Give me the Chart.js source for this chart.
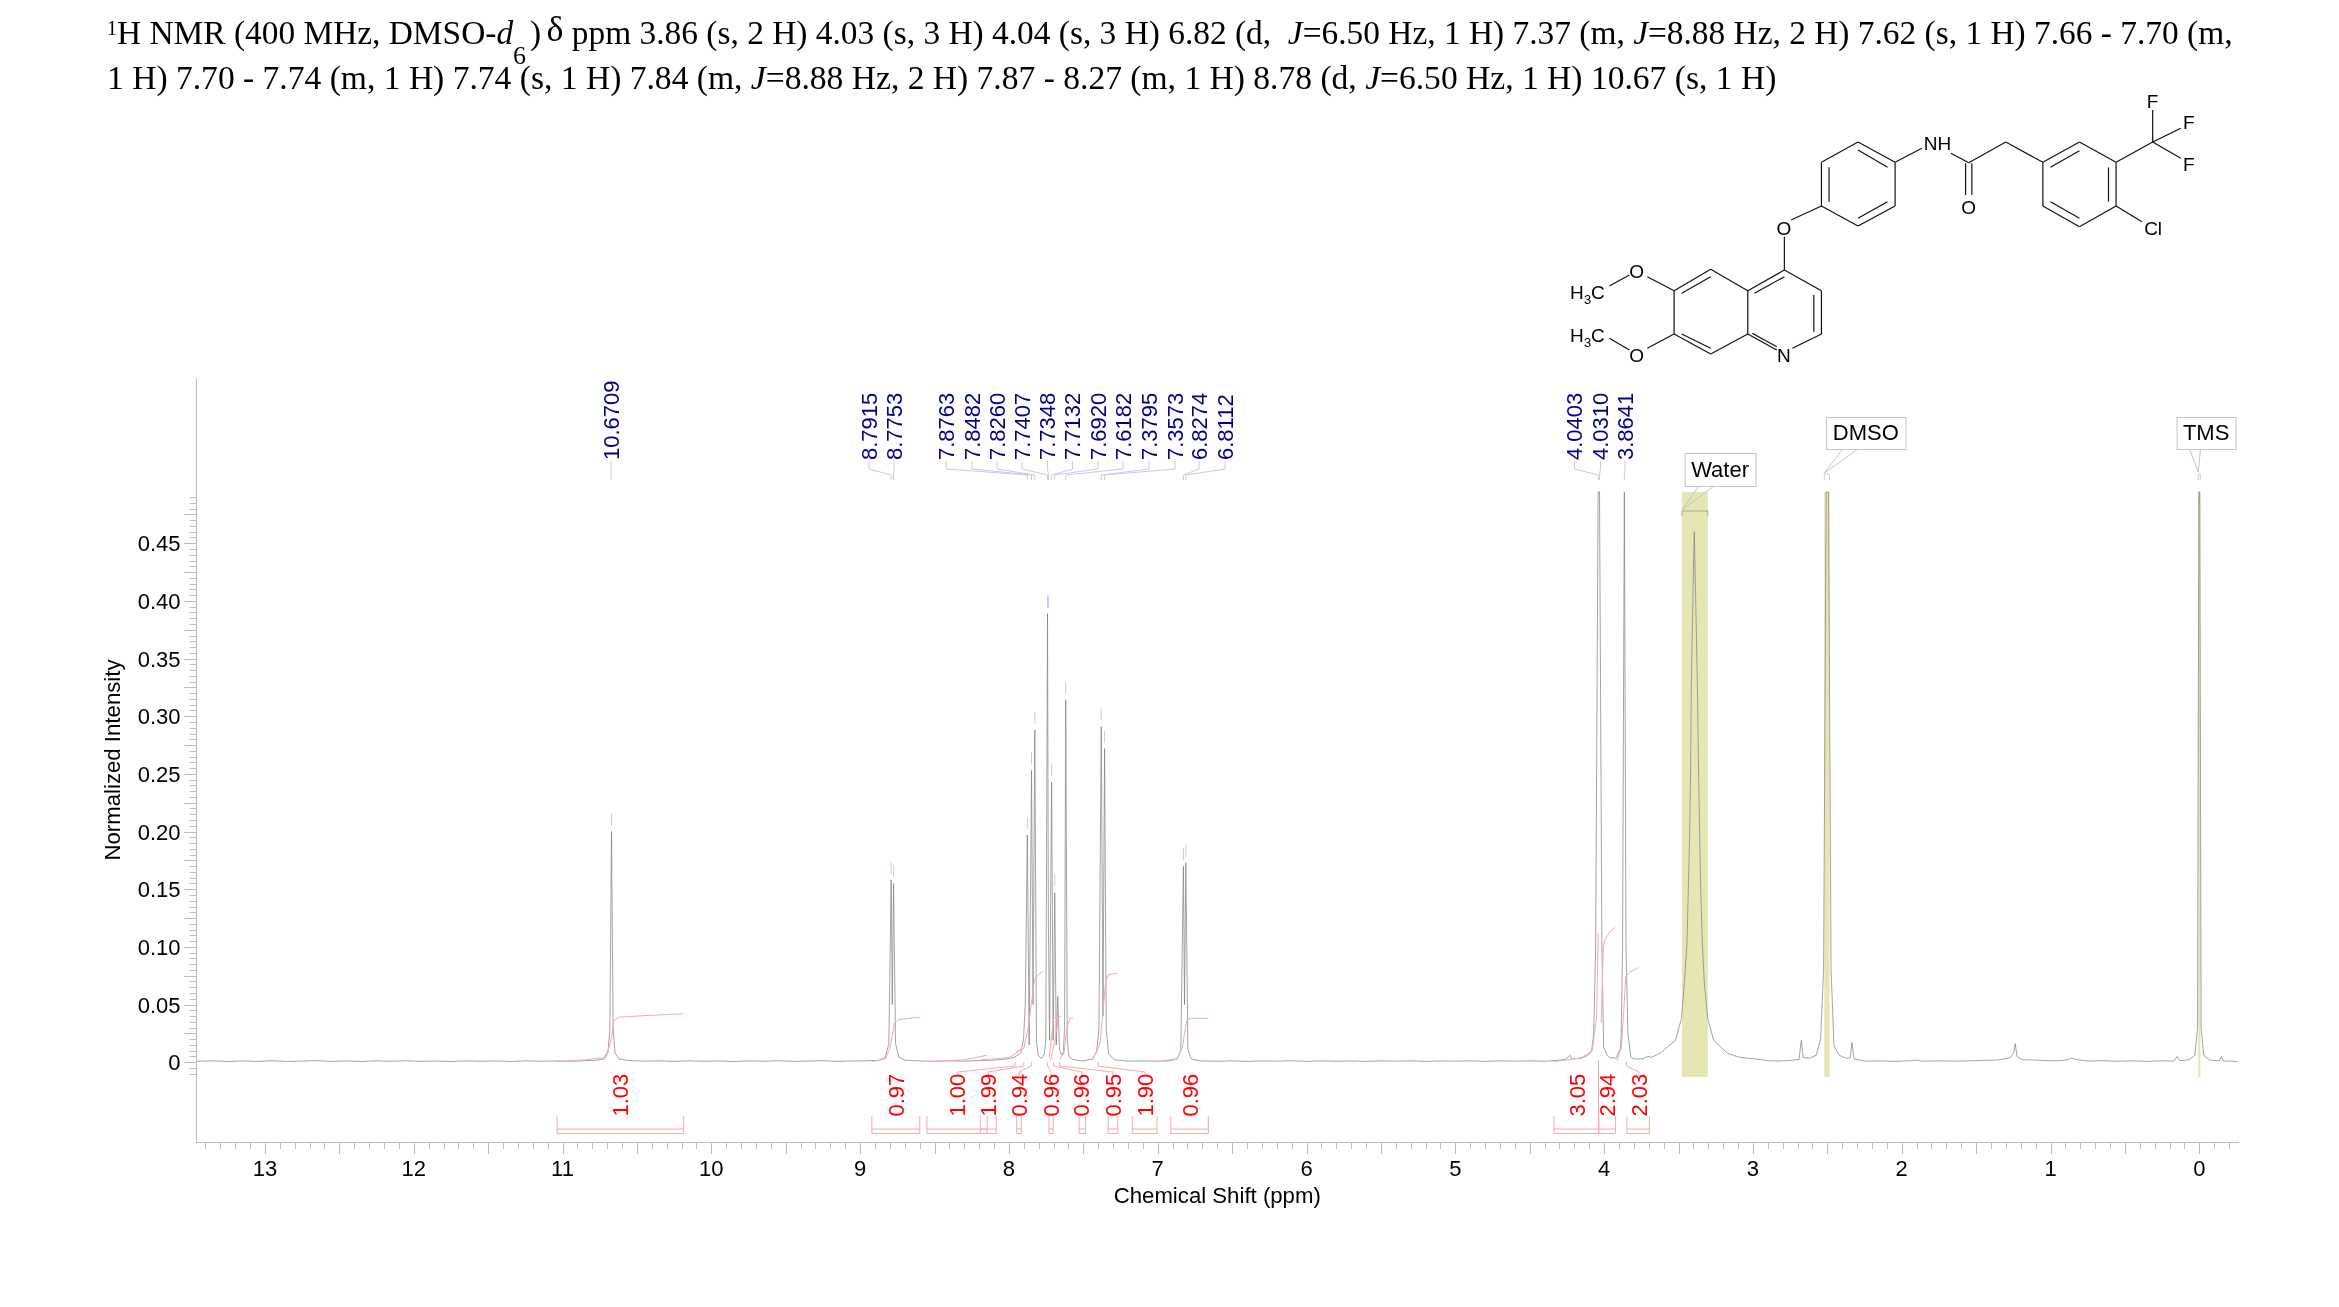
<!DOCTYPE html>
<html>
<head>
<meta charset="utf-8">
<script src="https://cdn.jsdelivr.net/npm/chart.js@4"></script>
<style>
html, body { margin: 0; padding: 0; background: #fff; }
#wrap { position: relative; width: 2339px; height: 1307px; overflow: hidden; }
#nmr { position: absolute; left: 0; top: 0; }
#structure { position: absolute; left: 0; top: 0; }
.line { position: absolute; left: 107px; white-space: pre; font: 33.4px "Liberation Serif", serif; color: #000; line-height: 45px; }
.line sup { font-size: 20px; line-height: 0; position: relative; top: -1px; vertical-align: 8px; }
.six { font-size: 26px; position: relative; top: 20px; line-height: 0; margin-right: 4px; }
.delta { font-size: 36px; line-height: 0; position: relative; top: -3px; margin-left: -3px; }
</style>
</head>
<body>
<div id="wrap">
<canvas id="nmr" width="2339" height="1307"></canvas>
<svg id="structure" width="2339" height="400" xmlns="http://www.w3.org/2000/svg"></svg>
<div class="line" style="top:10px"><sup>1</sup>H NMR (400 MHz, DMSO-<i>d</i><span class="six">6</span>) <span class="delta">δ</span> ppm 3.86 (s, 2 H) 4.03 (s, 3 H) 4.04 (s, 3 H) 6.82 (d,  <i>J</i>=6.50 Hz, 1 H) 7.37 (m, <i>J</i>=8.88 Hz, 2 H) 7.62 (s, 1 H) 7.66 - 7.70 (m,</div>
<div class="line" style="top:55px;font-size:33.55px">1 H) 7.70 - 7.74 (m, 1 H) 7.74 (s, 1 H) 7.84 (m, <i>J</i>=8.88 Hz, 2 H) 7.87 - 8.27 (m, 1 H) 8.78 (d, <i>J</i>=6.50 Hz, 1 H) 10.67 (s, 1 H)</div>
</div>
<script>
// spectrum, [ppm, intensity], left to right
const spectrum = [
  [13.46,.0008],[13.35,.0012],[13.25,.0006],[13.15,.0011],[13.05,.0007],[12.95,.0013],[12.85,.0006],[12.75,.001],[12.65,.0014],[12.55,.0007],
  [12.45,.0011],[12.35,.0006],[12.25,.0012],[12.15,.0008],[12.05,.0013],[11.95,.0007],[11.85,.001],[11.75,.0006],[11.65,.0012],[11.55,.0008],
  [11.45,.0011],[11.35,.0006],[11.25,.0012],[11.15,.0008],[11.05,.0011],[10.95,.0008],[10.85,.0013],[10.78,.0016],[10.72,.0028],[10.695,.008],
  [10.682,.028],[10.6709,.2],[10.66,.028],[10.647,.008],[10.62,.0028],[10.56,.0015],[10.45,.0009],[10.35,.0012],[10.25,.0007],[10.15,.0012],
  [10.05,.0008],[9.95,.0011],[9.85,.0006],[9.75,.0012],[9.65,.0008],[9.55,.0013],[9.45,.0007],[9.35,.001],[9.25,.0013],[9.15,.0007],
  [9.05,.0011],[8.95,.0012],[8.87,.0017],[8.83,.0045],[8.807,.016],[8.7915,.158],[8.784,.05],[8.7753,.155],[8.762,.016],[8.74,.0045],
  [8.70,.0018],[8.6,.0011],[8.5,.0007],[8.4,.0012],[8.3,.0009],[8.2,.0014],[8.1,.0018],[8.02,.0027],[7.96,.0045],[7.92,.008],
  [7.902,.02],[7.89,.05],[7.8763,.197],[7.864,.015],[7.8482,.253],[7.838,.05],[7.8260,.288],[7.815,.018],[7.803,.006],[7.78,.003],
  [7.762,.007],[7.752,.02],[7.7407,.389],[7.7348,.12],[7.727,.019],[7.7132,.243],[7.703,.019],[7.692,.147],[7.682,.015],[7.672,.057],
  [7.66,.011],[7.645,.006],[7.634,.009],[7.626,.03],[7.6182,.314],[7.608,.02],[7.597,.005],[7.57,.0022],[7.5,.0011],[7.44,.0028],
  [7.41,.009],[7.395,.03],[7.3795,.291],[7.368,.04],[7.3573,.272],[7.346,.028],[7.33,.007],[7.29,.002],[7.2,.0009],[7.1,.0012],
  [7.0,.0008],[6.92,.0012],[6.87,.0028],[6.845,.01],[6.8274,.17],[6.82,.05],[6.8112,.173],[6.797,.011],[6.775,.003],[6.72,.0012],
  [6.6,.0008],[6.5,.0012],[6.4,.0007],[6.3,.0011],[6.2,.0009],[6.1,.0013],[6.0,.0007],[5.9,.0012],[5.8,.0008],[5.7,.0011],
  [5.6,.0007],[5.5,.0012],[5.4,.0009],[5.3,.0012],[5.2,.0007],[5.1,.0011],[5.0,.0009],[4.9,.0012],[4.8,.0007],[4.7,.0012],
  [4.6,.0009],[4.5,.0012],[4.4,.0008],[4.32,.0016],[4.26,.0024],[4.23,.006],[4.215,.0028],[4.15,.0035],[4.11,.006],[4.085,.009],
  [4.07,.025],[4.057,.1],[4.0403,.4945],[4.031,.4945],[4.015,.1],[4.003,.013],[3.98,.006],[3.96,.004],[3.92,.0035],[3.89,.012],
  [3.885,.025],[3.876,.1],[3.8641,.4945],[3.853,.1],[3.84,.025],[3.82,.004],[3.79,.0028],[3.74,.003],[3.705,.005],[3.68,.0042],
  [3.622,.008],[3.52,.019],[3.48,.038],[3.46,.07],[3.443,.103],[3.434,.151],[3.425,.198],[3.419,.25],[3.414,.327],[3.403,.404],
  [3.394,.46],[3.385,.404],[3.373,.327],[3.365,.25],[3.358,.198],[3.351,.151],[3.34,.103],[3.327,.07],[3.304,.038],[3.264,.019],
  [3.174,.008],[3.1,.0045],[2.997,.003],[2.9,.0014],[2.85,.001],[2.76,.0014],[2.69,.0025],[2.675,.019],[2.662,.004],[2.62,.0035],
  [2.575,.006],[2.545,.02],[2.525,.08],[2.508,.4945],[2.5,.4945],[2.492,.4945],[2.475,.08],[2.455,.014],[2.42,.006],[2.37,.0032],
  [2.345,.004],[2.335,.017],[2.32,.0028],[2.25,.0009],[2.15,.0012],[2.05,.0007],[1.95,.0012],[1.9,.0018],[1.85,.0008],[1.75,.0012],
  [1.65,.0009],[1.55,.0012],[1.45,.0016],[1.35,.002],[1.27,.004],[1.245,.009],[1.237,.016],[1.225,.005],[1.19,.0022],[1.1,.0018],
  [1.0,.0012],[.93,.0014],[.88,.0022],[.86,.0034],[.82,.0022],[.75,.001],[.65,.0013],[.55,.0008],[.45,.0012],[.35,.0007],
  [.25,.0012],[.17,.001],[.148,.005],[.13,.0012],[.07,.0022],[.03,.006],[.012,.03],[.003,.4945],[-.003,.4945],[-.012,.03],
  [-.03,.006],[-.07,.0018],[-.135,.0012],[-.148,.005],[-.16,.0012],[-.2,.0009],[-.26,.0006]
];

// picked peaks
const peakShifts = [10.6709, 8.7915, 8.7753, 7.8763, 7.8482, 7.8260, 7.7407, 7.7348, 7.7132, 7.6920, 7.6182, 7.3795, 7.3573, 6.8274, 6.8112, 4.0403, 4.0310, 3.8641];
const peakTops = [0.2, 0.158, 0.155, 0.197, 0.253, 0.288, 0.389, 0.389, 0.243, 0.147, 0.314, 0.291, 0.272, 0.17, 0.173, 0.4945, 0.4945, 0.4945];
const peakLabels = ['10.6709', '8.7915', '8.7753', '7.8763', '7.8482', '7.8260', '7.7407', '7.7348', '7.7132', '7.6920', '7.6182', '7.3795', '7.3573', '6.8274', '6.8112', '4.0403', '4.0310', '3.8641'];

// integrals: label, range in ppm
const integralLabels = ['1.03', '0.97', '1.00', '1.99', '0.94', '0.96', '0.96', '0.95', '1.90', '0.96', '3.05', '2.94', '2.03'];
const integralFrom = [11.037, 8.921, 8.551, 8.192, 7.948, 7.731, 7.529, 7.333, 7.171, 6.912, 4.337, 4.036, 3.847];
const integralTo = [10.186, 8.599, 8.146, 8.085, 7.917, 7.702, 7.485, 7.268, 7.005, 6.660, 4.036, 3.923, 3.696];
const integralCurves = [
  [[11.04,.0005],[10.85,.002],[10.72,.004],[10.69,.012],[10.67,.022],[10.655,.036],[10.62,.039],[10.5,.04],[10.19,.042]],
  [[8.92,.0005],[8.83,.003],[8.80,.012],[8.785,.022],[8.77,.034],[8.74,.037],[8.6,.039]],
  [[8.55,.0005],[8.3,.002],[8.15,.006]],
  [[8.19,.002],[8.0,.004],[7.9,.012],[7.87,.03],[7.85,.05],[7.83,.07],[7.81,.075],[7.77,.079]],
  [[7.95,.008],[7.92,.012]],
  [[7.73,.004],[7.715,.02],[7.70,.038],[7.65,.04]],
  [[7.72,.002],[7.69,.02],[7.67,.037]],
  [[7.66,.002],[7.63,.008],[7.61,.03],[7.59,.038],[7.57,.038]],
  [[7.44,.002],[7.39,.015],[7.37,.04],[7.35,.07],[7.33,.076],[7.27,.077]],
  [[7.0,.0005],[6.87,.003],[6.835,.012],[6.82,.025],[6.805,.036],[6.78,.038],[6.66,.038]],
  [[4.34,.0005],[4.25,.002],[4.15,.004],[4.08,.01],[4.05,.04],[4.04,.112],[4.036,.112]],
  [[4.02,.034],[4.005,.1],[3.995,.106],[3.96,.113],[3.925,.117]],
  [[3.915,.001],[3.885,.012],[3.87,.04],[3.855,.074],[3.83,.078],[3.77,.082]]
];

// x axis and y axis tick values
const xTickLabels = [13, 12, 11, 10, 9, 8, 7, 6, 5, 4, 3, 2, 1, 0];
const yTickLabels = [0, 0.05, 0.10, 0.15, 0.20, 0.25, 0.30, 0.35, 0.40, 0.45];

const axisColor = '#bdbdbd';
const lavender = '#c9c9e6';
const pink = '#f6a8a8';
const sans = '"Liberation Sans", Arial, sans-serif';

// label columns above/below the spectrum, canvas px
const peakLabelX = [611, 869, 894, 946, 972, 997, 1022, 1047.5, 1072.5, 1098, 1123, 1149, 1175, 1199, 1225, 1574.5, 1600.5, 1625];
const integralLabelX = [620.5, 896, 957.8, 988, 1019, 1051, 1081.7, 1113, 1145, 1190.4, 1577.5, 1607, 1639];
const integralLeadTo = [null, null, 7.96, 7.90, 7.85, 7.74, 7.70, 7.66, 7.40, null, null, null, 3.85];

const solventBands = [
  { name: 'Water', from: 3.477, to: 3.303, box: [1684.6, 453, 71, 33], foot: [1699, 1714], tipY: 510, bar: true },
  { name: 'DMSO', from: 2.52, to: 2.485, box: [1826, 417, 79.5, 32], foot: [1843, 1858], tipY: 473 },
  { name: 'TMS', from: 0.007, to: -0.007, box: [2176.6, 417, 59, 32], foot: [2189.5, 2200.5], tipY: 472 }
];

function seg(ctx, pts, color, width) {
  ctx.beginPath();
  pts.forEach((p, i) => i ? ctx.lineTo(p[0], p[1]) : ctx.moveTo(p[0], p[1]));
  ctx.strokeStyle = color;
  ctx.lineWidth = width || 1;
  ctx.stroke();
}

function rotText(ctx, text, x, y, color) {
  ctx.save();
  ctx.translate(x + 1.5, y);
  ctx.rotate(-Math.PI / 2);
  ctx.font = '22px ' + sans;
  ctx.fillStyle = color;
  ctx.textAlign = 'left';
  ctx.textBaseline = 'middle';
  ctx.fillText(text, 0, 0);
  ctx.restore();
}

const bandPlugin = {
  id: 'bands',
  beforeDatasetsDraw(chart) {
    const { x, y } = chart.scales;
    const ctx = chart.ctx;
    ctx.save();
    ctx.fillStyle = '#e6e6b4';
    solventBands.forEach(b => {
      const l = x.getPixelForValue(b.from), r = x.getPixelForValue(b.to);
      ctx.fillRect(l, y.getPixelForValue(0.4945), r - l, y.getPixelForValue(-0.0128) - y.getPixelForValue(0.4945));
    });
    ctx.restore();
  }
};

const notePlugin = {
  id: 'notes',
  afterDraw(chart) {
    const { x, y } = chart.scales;
    const ctx = chart.ctx;
    ctx.save();

    // axis tick marks: 0.1 ppm and 0.005 steps, longer at every 0.5 and 0.025
    const bottom = y.bottom, left = x.left;
    for (let i = -2; i <= 134; i++) {
      const px = Math.round(x.getPixelForValue(i / 10)) + 0.5;
      seg(ctx, [[px, bottom], [px, bottom + (i % 5 === 0 ? 12 : 7)]], axisColor);
    }
    for (let i = -2; i <= 98; i++) {
      const py = Math.round(y.getPixelForValue(i * 0.005)) + 0.5;
      seg(ctx, [[left, py], [left - (i % 5 === 0 ? 12.5 : 7), py]], axisColor);
    }

    // peak labels with their leaders and the dash over each peak
    peakShifts.forEach((ppm, i) => {
      const px = x.getPixelForValue(ppm), lx = peakLabelX[i];
      const lines = i === 0 ? [[lx, 461], [lx, 480]] : [[lx, 461], [lx, 469], [px, 475], [px, 480]];
      seg(ctx, lines, lavender);
      const top = y.getPixelForValue(peakTops[i]);
      if (peakTops[i] < 0.49) seg(ctx, [[px, top - 18], [px, top - 6]], lavender);
      rotText(ctx, peakLabels[i], lx, 460, '#00008b');
    });

    // integral brackets and values
    integralLabels.forEach((t, i) => {
      const a = x.getPixelForValue(integralFrom[i]), b = x.getPixelForValue(integralTo[i]);
      seg(ctx, [[a, 1116], [a, 1133.5], [b, 1133.5], [b, 1116]], pink);
      seg(ctx, [[a, 1129], [b, 1129]], pink);
      const lx = integralLabelX[i];
      if (integralLeadTo[i] !== null) {
        const to = x.getPixelForValue(integralLeadTo[i]);
        seg(ctx, [[lx, 1076], [lx, 1072], [to, 1066], [to, 1062]], pink);
      }
      rotText(ctx, t, lx, 1116.5, '#ff0000');
    });
    seg(ctx, [[1598.5, 1060], [1598.5, 1116]], pink);

    // solvent callouts
    solventBands.forEach(b => {
      const l = x.getPixelForValue(b.from), r = x.getPixelForValue(b.to);
      seg(ctx, [[b.foot[0], b.box[1] + b.box[3]], [l, b.tipY], [b.foot[1], b.box[1] + b.box[3]]], '#c4c4c4');
      if (b.bar) {
        seg(ctx, [[l, 516], [l, 511], [r, 511], [r, 516]], '#a8a88a');
      } else {
        seg(ctx, [[l, 480], [l, 474], [r, 474], [r, 480]], '#cfcfcf');
      }
      ctx.fillStyle = '#fff';
      ctx.fillRect(b.box[0], b.box[1], b.box[2], b.box[3]);
      ctx.strokeStyle = '#c4c4c4';
      ctx.lineWidth = 1;
      ctx.strokeRect(b.box[0] + 0.5, b.box[1] + 0.5, b.box[2], b.box[3]);
      ctx.fillStyle = '#000';
      ctx.font = '22px ' + sans;
      ctx.textAlign = 'center';
      ctx.textBaseline = 'middle';
      ctx.fillText(b.name, b.box[0] + b.box[2] / 2, b.box[1] + b.box[3] / 2 + 1);
    });
    ctx.restore();
  }
};

const toXY = pts => pts.map(p => ({ x: p[0], y: p[1] }));

const datasets = integralCurves.map(c => ({
  data: toXY(c), showLine: true, pointRadius: 0, borderColor: pink, borderWidth: 1
}));
datasets.push({
  data: toXY(spectrum), showLine: true, pointRadius: 0, borderColor: '#7d7d7d', borderWidth: 0.7
});

new Chart(document.getElementById('nmr').getContext('2d'), {
  type: 'scatter',
  data: { datasets },
  plugins: [bandPlugin, notePlugin],
  options: {
    responsive: false,
    animation: false,
    layout: { padding: { left: 101, top: 378, right: 101, bottom: 97 } },
    plugins: { legend: { display: false }, tooltip: { enabled: false }, title: { display: false } },
    scales: {
      x: {
        type: 'linear',
        reverse: true,
        bounds: 'data',
        min: -0.26,
        max: 13.46,
        afterBuildTicks: s => { s.ticks = xTickLabels.map(v => ({ value: v })); },
        afterFit: s => { s.height = 68; },
        grid: { display: false },
        border: { display: true, color: axisColor, width: 1 },
        ticks: { color: '#000', font: { family: sans, size: 22 }, padding: 7, maxRotation: 0, autoSkip: false, callback: v => String(v) },
        title: { display: true, text: 'Chemical Shift (ppm)', color: '#000', font: { family: sans, size: 22.2 }, padding: 0 }
      },
      y: {
        type: 'linear',
        bounds: 'data',
        min: -0.0692,
        max: 0.5933,
        afterBuildTicks: s => { s.ticks = yTickLabels.map(v => ({ value: v })); },
        afterFit: s => { s.width = 95.5; },
        grid: { display: false },
        border: { display: true, color: axisColor, width: 1 },
        ticks: { color: '#000', font: { family: sans, size: 22 }, padding: 8, labelOffset: 2, autoSkip: false, callback: v => v === 0 ? '0' : v.toFixed(2) },
        title: { display: true, text: 'Normalized Intensity', color: '#000', font: { family: sans, size: 22.2 }, padding: 0 }
      }
    }
  }
});

// molecule drawn over the top right corner, coordinates taken from a zoomed crop
const bonds = [
  [472,568,390,632],[390,632,390,762],[390,762,472,822],[472,822,555,762],[555,762,555,632],[555,632,472,568],
  [555,632,637,570],[637,570,720,632],[720,632,720,762],[720,762,655,805],[555,762,620,810],
  [407,640,472,590],[407,762,472,805],[570,640,637,590],[703,645,703,755],[565,760,620,800],
  [637,570,637,470],[652,420,720,378],
  [720,378,802,438],[802,438,885,378],[885,378,885,247],[885,247,802,186],[802,186,720,247],[720,247,720,378],
  [737,262,737,365],[802,210,868,262],[802,415,868,365],
  [885,247,945,205],[1010,220,1050,248],[1050,248,1133,186],[1133,186,1216,247],
  [1043,250,1043,345],[1057,250,1057,345],
  [1216,247,1298,186],[1298,186,1380,247],[1380,247,1380,378],[1380,378,1298,440],[1298,440,1216,378],[1216,378,1216,247],
  [1233,262,1298,212],[1363,262,1363,365],[1233,365,1298,415],
  [1380,247,1462,186],[1462,186,1462,90],[1462,186,1525,145],[1462,186,1525,235],[1380,378,1438,425],
  [390,632,330,590],[290,585,245,618],[390,762,330,805],[290,810,245,775]
];
const atoms = [
  ['O',636,445],['N',636,825],['O',306,572],['O',306,825],['NH',980,190],['O',1050,380],
  ['F',1462,62],['F',1543,125],['F',1543,252],['Cl',1463,445]
];
const methyls = [[157,635],[157,765]];

const svg = document.getElementById('structure');
const mapX = X => 1500 + X / 2.24;
const mapY = Y => 80 + Y / 3;
const NS = 'http://www.w3.org/2000/svg';
bonds.forEach(b => {
  const l = document.createElementNS(NS, 'line');
  l.setAttribute('x1', mapX(b[0]));
  l.setAttribute('y1', mapY(b[1]));
  l.setAttribute('x2', mapX(b[2]));
  l.setAttribute('y2', mapY(b[3]));
  l.setAttribute('stroke', '#111');
  l.setAttribute('stroke-width', '1.2');
  svg.appendChild(l);
});
function addText(str, x, y, anchor, size) {
  const t = document.createElementNS(NS, 'text');
  t.setAttribute('x', x);
  t.setAttribute('y', y);
  t.setAttribute('text-anchor', anchor);
  t.setAttribute('font-family', sans);
  t.setAttribute('font-size', size);
  t.setAttribute('fill', '#000');
  t.textContent = str;
  svg.appendChild(t);
}
atoms.forEach(a => addText(a[0], mapX(a[1]), mapY(a[2]) + 7, 'middle', 19));
methyls.forEach(m => {
  const x = mapX(m[0]), y = mapY(m[1]);
  addText('H', x, y + 7, 'start', 19);
  addText('3', x + 14, y + 12, 'start', 13);
  addText('C', x + 21, y + 7, 'start', 19);
});
</script>
</body>
</html>
